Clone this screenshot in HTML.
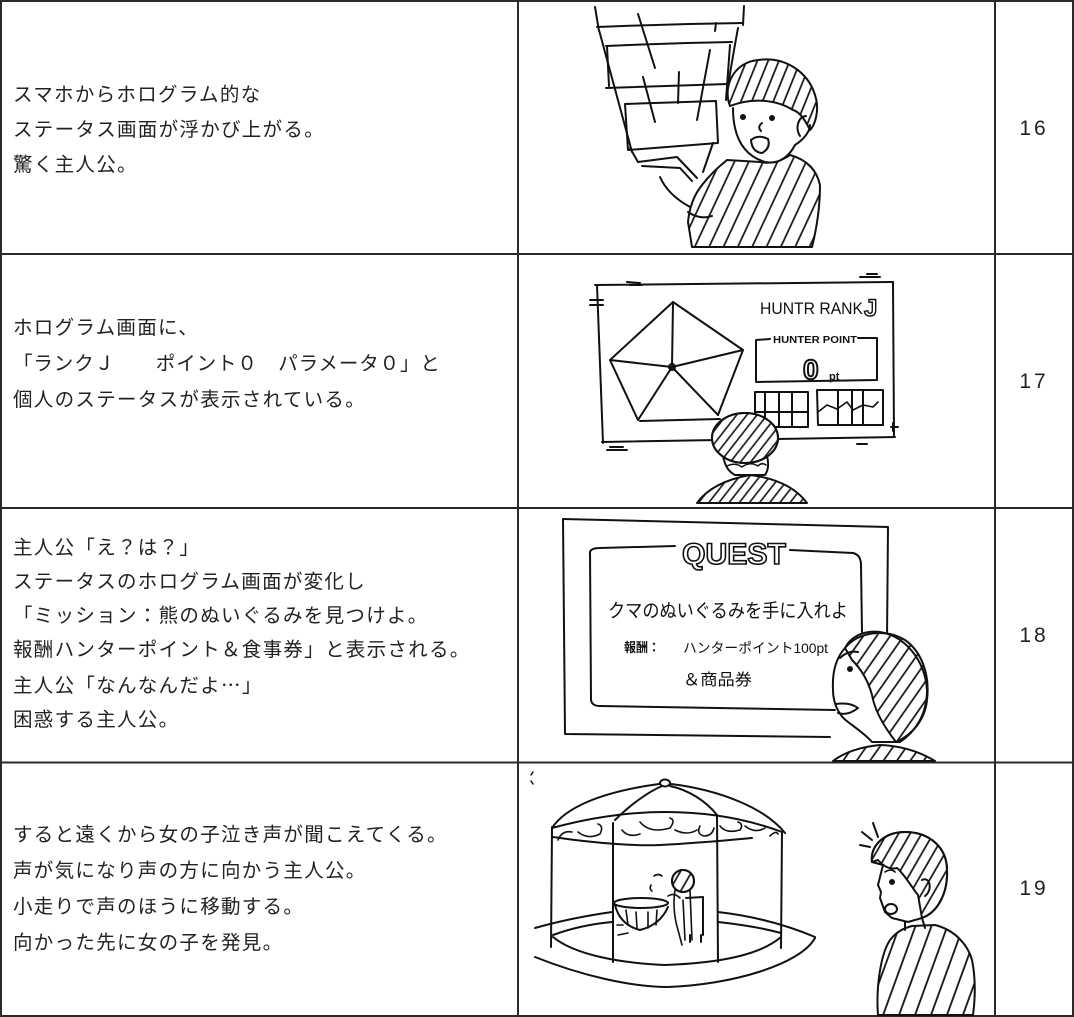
<!DOCTYPE html>
<html><head><meta charset="utf-8">
<style>
html,body{margin:0;padding:0;background:#fff;}
body{width:1074px;height:1017px;position:relative;overflow:hidden;}
svg{position:absolute;left:0;top:0;}
.t{position:absolute;left:13px;font-family:"Liberation Sans","Noto Sans CJK JP",sans-serif;font-size:19.5px;letter-spacing:1.3px;color:#222;white-space:nowrap;}
.j{font-family:"Noto Sans CJK JP",sans-serif;}
.n{position:absolute;left:995px;width:78px;text-align:center;font-family:"Liberation Sans",sans-serif;font-size:21px;letter-spacing:3px;color:#222;line-height:24px;}
</style></head><body>
<svg width="1074" height="1017" viewBox="0 0 1074 1017" xmlns="http://www.w3.org/2000/svg">
<defs>
<pattern id="pH1" width="10" height="10" patternUnits="userSpaceOnUse" patternTransform="rotate(22)"><line x1="5" y1="0" x2="5" y2="10" stroke="#111" stroke-width="1.7"/></pattern>
<pattern id="pB1" width="13" height="13" patternUnits="userSpaceOnUse" patternTransform="rotate(25)"><line x1="6" y1="0" x2="6" y2="13" stroke="#111" stroke-width="1.7"/></pattern>
<pattern id="pH2" width="8" height="8" patternUnits="userSpaceOnUse" patternTransform="rotate(38)"><line x1="4" y1="0" x2="4" y2="8" stroke="#111" stroke-width="1.6"/></pattern>
<pattern id="pH3" width="11" height="11" patternUnits="userSpaceOnUse" patternTransform="rotate(35)"><line x1="5" y1="0" x2="5" y2="11" stroke="#111" stroke-width="1.7"/></pattern>
<pattern id="pB4" width="15" height="15" patternUnits="userSpaceOnUse" patternTransform="rotate(20)"><line x1="7" y1="0" x2="7" y2="15" stroke="#111" stroke-width="1.8"/></pattern>
<pattern id="pH4" width="10" height="10" patternUnits="userSpaceOnUse" patternTransform="rotate(30)"><line x1="5" y1="0" x2="5" y2="10" stroke="#111" stroke-width="1.7"/></pattern>
</defs>

<!-- table -->
<g stroke="#2a2a2a" stroke-width="2" fill="none">
<rect x="1" y="1" width="1072" height="1015"/>
<line x1="0" y1="254" x2="1074" y2="254"/>
<line x1="0" y1="508" x2="1074" y2="508"/>
<line x1="0" y1="762.5" x2="1074" y2="762.5"/>
<line x1="518" y1="0" x2="518" y2="1017"/>
<line x1="995" y1="0" x2="995" y2="1017"/>
</g>

<g stroke="#111" stroke-width="2" fill="none" stroke-linecap="round" stroke-linejoin="round">
<!-- ===== Image 1 ===== -->
<path d="M595,7 L599,31"/>
<path d="M597,27 Q670,24 743,23"/>
<path d="M744,6 L743,25"/>
<path d="M599,30 Q615,90 632,152"/>
<path d="M606,46 Q670,43 732,42"/>
<path d="M607,46 L609,86"/>
<path d="M738,28 Q733,55 728,86"/>
<path d="M606,88 Q665,86 728,84"/>
<path d="M625,104 L716,101 L718,143 L628,150 Z"/>
<path d="M638,14 L655,68"/>
<path d="M643,77 L655,122"/>
<path d="M679,72 L678,103"/>
<path d="M710,50 L697,120"/>
<path d="M716,23 L715,31"/>
<path d="M730,45 L726,100"/>
<path d="M630,148 L638,162"/>
<path d="M638,162 L677,157 L697,178"/>
<path d="M642,166 L680,168 L692,181"/>
<path d="M660,177 Q668,195 690,207"/>
<path d="M713,143 L703,172"/>
<!-- body -->
<path d="M727,160 Q712,172 702,185 Q690,200 688,222 L692,247 L812,247 Q820,215 820,185 Q815,162 790,155 Q775,165 760,162 Z" fill="url(#pB1)"/>
<path d="M688,212 Q700,220 712,216" />
<!-- head -->
<path d="M733,108 C733,135 742,155 765,162 C780,165 790,155 795,145 C803,140 810,132 810,125" fill="#fff"/>
<path d="M730,106 C722,85 735,62 758,60 C785,56 808,72 815,95 C820,110 815,125 810,130 C805,120 800,112 793,110 C777,100 753,97 730,106 Z" fill="url(#pH1)"/>
<path d="M806,116 C798,117 795,128 800,136"/>
<circle cx="743" cy="117" r="2" fill="#111"/>
<circle cx="772" cy="118" r="2" fill="#111"/>
<path d="M762,123 Q757,127 761,131"/>
<path d="M751,140 Q758,134 768,139 Q771,148 762,153 Q752,152 751,140 Z"/>

<!-- ===== Image 2 ===== -->
<path d="M595,285 Q740,283 893,282"/>
<path d="M597,285 L603,443"/>
<path d="M602,442 Q750,440 895,437"/>
<path d="M893,282 L894,437"/>
<path d="M590,300 L603,300 M590,305 L603,305"/>
<path d="M627,282 L640,283 M630,285 L642,285"/>
<path d="M860,277 L880,277 M867,274 L877,274"/>
<path d="M610,447 L623,447 M607,450 L627,450"/>
<path d="M857,444 L867,444"/>
<path d="M891,427 L898,427 M893,423 L893,431"/>
<!-- pentagon -->
<path d="M673,302 L743,350 L718,415 M640,421 L720,419 M638,420 L610,360 L673,302"/>
<path d="M672,367 L673,302 M672,367 L743,350 M672,367 L718,415 M672,367 L638,420 M672,367 L610,360"/>
<circle cx="672" cy="367" r="3"/>
<!-- hunter point box -->
<path d="M770,339 L756,340 L756,382 L877,380 L877,338 L858,338"/>
<!-- grids -->
<path d="M755,392 L808,392 L808,427 L755,427 Z M765,392 L765,427 M779,392 L779,427 M792,392 L792,427 M755,412 L808,412"/>
<path d="M817,390 L883,390 L883,425 L818,425 Z M838,390 L838,425 M852,390 L852,425 M863,390 L863,425"/>
<path d="M818,412 L827,405 L837,409 L847,402 L853,410 L863,405 L873,407 L878,402" stroke-width="1.6"/>
<!-- person -->
<path d="M697,503 Q712,482 750,475 Q790,480 807,503 Z" fill="url(#pH2)"/>
<path d="M723,455 Q725,470 735,475 L765,475 Q770,468 767,456" fill="#fff"/>
<path d="M727,466 Q735,462 742,467 Q750,461 758,466 Q762,462 766,465" stroke-width="1.5"/>
<ellipse cx="745" cy="438" rx="33" ry="25" fill="#fff"/>
<ellipse cx="745" cy="438" rx="33" ry="25" fill="url(#pH2)"/>

<!-- ===== Image 3 ===== -->
<path d="M563,519 L888,527 L887,640"/>
<path d="M563,519 L565,734 L830,737"/>
<path d="M590,554 Q589,548 600,548 L675,546"/>
<path d="M790,550 L853,553 Q861,555 861,565 L862,632"/>
<path d="M590,552 L591,700 Q592,706 600,706 L835,710"/>
<!-- person -->
<path d="M833,761 Q850,748 880,745 Q910,746 935,761 Z" fill="url(#pH3)"/>
<path d="M845,648 C836,658 832,672 833,690 C833,702 838,715 848,722 C856,728 866,735 872,742 L900,742 C915,732 927,715 927,690 C925,660 905,636 880,632 C862,630 850,638 845,648 Z" fill="#fff"/>
<path d="M845,648 C858,632 885,628 905,640 C922,652 930,675 927,700 C925,720 912,735 896,742 C885,728 875,712 872,695 C868,680 860,668 852,660 Z" fill="url(#pH3)"/>
<path d="M840,658 Q848,650 858,652"/>
<circle cx="850" cy="669" r="2" fill="#111"/>
<path d="M836,704 Q850,702 858,708 Q848,716 838,713"/>

<!-- ===== Image 4 ===== -->
<path d="M533,772 L531,775 M531,781 L533,784" stroke-width="1.5"/>
<ellipse cx="665" cy="783" rx="5" ry="3.5"/>
<path d="M552,828 C565,808 600,792 659,784"/>
<path d="M671,784 C720,790 765,808 785,833"/>
<path d="M615,820 C630,805 648,792 662,786"/>
<path d="M717,815 C705,800 688,790 670,786"/>
<path d="M552,828 C600,815 640,812 665,812 C710,812 750,820 782,832"/>
<path d="M553,837 C600,844 640,846 660,845 C700,843 730,840 752,838"/>
<path d="M558,840 q4,-10 14,-8 M578,832 q10,8 22,2 q4,-8 -2,-10 M622,830 q6,8 18,4 M640,822 q10,12 30,6 q6,-8 0,-10 M675,830 q12,6 22,0 M700,826 q-4,8 4,10 q8,0 10,-8 M720,826 q6,8 20,4 q4,-6 -2,-8 M745,826 q10,8 20,2 M770,836 q6,-6 8,-2" stroke-width="1.6"/>
<path d="M552,827 L551,947"/>
<path d="M613,823 L613,962"/>
<path d="M717,815 L718,962"/>
<path d="M782,832 L781,948"/>
<path d="M535,928 Q570,918 612,912"/>
<path d="M718,912 Q770,918 815,937"/>
<path d="M535,957 C580,975 630,987 668,987 C730,985 800,965 815,938"/>
<path d="M553,935 Q580,925 612,922"/>
<path d="M718,922 Q755,926 781,933"/>
<path d="M553,937 C575,955 620,963 665,965 C720,963 760,955 781,937"/>
<!-- girl -->
<ellipse cx="641" cy="903" rx="27" ry="5"/>
<path d="M615,905 Q620,925 640,930 Q660,925 668,907"/>
<path d="M626,910 L628,925 M636,912 L637,928 M648,912 L648,928 M657,910 L656,925" stroke-width="1.6"/>
<path d="M617,925 L623,925 M618,935 L628,933" stroke-width="1.6"/>
<path d="M686,898 L703,897 L703,935 M690,935 L690,942 M701,935 L701,942"/>
<path d="M675,890 Q672,910 678,930 L682,945 M690,890 L692,940 M683,900 L685,940" stroke-width="1.6"/>
<circle cx="683" cy="881" r="11" fill="#fff"/>
<circle cx="683" cy="881" r="11" fill="url(#pH4)"/>
<path d="M654,876 q4,-3 8,0 M651,885 q-2,4 1,6" stroke-width="1.6"/>
<path d="M668,896 q6,-4 12,2" stroke-width="1.6"/>
<!-- person -->
<path d="M862,832 L872,840 M873,823 L878,837 M860,845 L870,847"/>
<path d="M878,1015 C876,990 880,955 890,940 C898,930 905,928 912,926 L935,925 C955,930 968,945 972,960 C976,980 975,1000 973,1015 Z" fill="url(#pB4)"/>
<path d="M905,922 L905,930 M922,918 L925,928"/>
<path d="M883,865 L878,885 L881,892 L880,898 L885,912 L892,918 L908,922 L922,918 C938,912 948,893 947,870 C947,848 930,832 905,832 C885,832 870,845 872,862 Z" fill="#fff"/>
<path d="M872,862 C870,845 885,832 905,832 C930,832 947,848 947,870 C948,893 938,912 922,918 L918,895 C910,885 905,875 897,868 C890,870 883,866 878,860 Z" fill="url(#pH4)"/>
<path d="M922,880 C930,876 933,890 925,896"/>
<path d="M885,872 q6,-4 10,0" stroke-width="1.6"/>
<circle cx="892" cy="882" r="2" fill="#111"/>
<ellipse cx="891" cy="909" rx="6" ry="5"/>
</g>

<!-- drawn labels -->
<g font-family="Liberation Sans, sans-serif" fill="#111">
<text x="760" y="314" font-size="17" textLength="103" lengthAdjust="spacingAndGlyphs">HUNTR RANK</text>
<text x="864" y="316" font-size="24" font-weight="bold" fill="#fff" stroke="#111" stroke-width="1.4">J</text>
<text x="773" y="343" font-size="10" font-weight="bold" textLength="84" lengthAdjust="spacingAndGlyphs">HUNTER POINT</text>
<text x="803" y="379" font-size="28" font-weight="bold" fill="#fff" stroke="#111" stroke-width="2">0</text>
<text x="829" y="380" font-size="11" font-weight="bold">pt</text>
<text x="682" y="564" font-size="30" font-weight="bold" fill="#fff" stroke="#111" stroke-width="1.6" textLength="104" lengthAdjust="spacingAndGlyphs">QUEST</text>
</g>
<g font-family="Liberation Sans, Noto Sans CJK JP, sans-serif" fill="#111">
<text x="608" y="617" font-size="19" textLength="240" lengthAdjust="spacingAndGlyphs">クマのぬいぐるみを手に入れよ</text>
<text x="624" y="652" font-size="13" font-weight="bold" textLength="36" lengthAdjust="spacingAndGlyphs">報酬：</text>
<text x="683" y="653" font-size="14" textLength="145" lengthAdjust="spacingAndGlyphs">ハンターポイント100pt</text>
<text x="683" y="685" font-size="16" textLength="69" lengthAdjust="spacingAndGlyphs">＆商品券</text>
</g>
</svg>

<div class="t" style="top:78px;line-height:35px;">スマホからホログラム的な<br>ステータス画面が浮かび上がる。<br>驚く主人公。</div>
<div class="t" style="top:310px;line-height:36px;">ホログラム画面に、<br><span style="letter-spacing:0.9px">「ランクＪ　　ポイント０　パラメータ０」と</span><br>個人のステータスが表示されている。</div>
<div class="t" style="top:531px;line-height:34px;">主人公「え？は？」<br>ステータスのホログラム画面が変化し<br>「ミッション：熊のぬいぐるみを見つけよ。<br>報酬ハンターポイント＆食事券」と表示される。<br>主人公「なんなんだよ<span class="j">…</span>」<br>困惑する主人公。</div>
<div class="t" style="top:817px;line-height:36px;">すると遠くから女の子泣き声が聞こえてくる。<br>声が気になり声の方に向かう主人公。<br>小走りで声のほうに移動する。<br>向かった先に女の子を発見。</div>

<div class="n" style="top:117px;">16</div>
<div class="n" style="top:370px;">17</div>
<div class="n" style="top:624px;">18</div>
<div class="n" style="top:877px;">19</div>
</body></html>
